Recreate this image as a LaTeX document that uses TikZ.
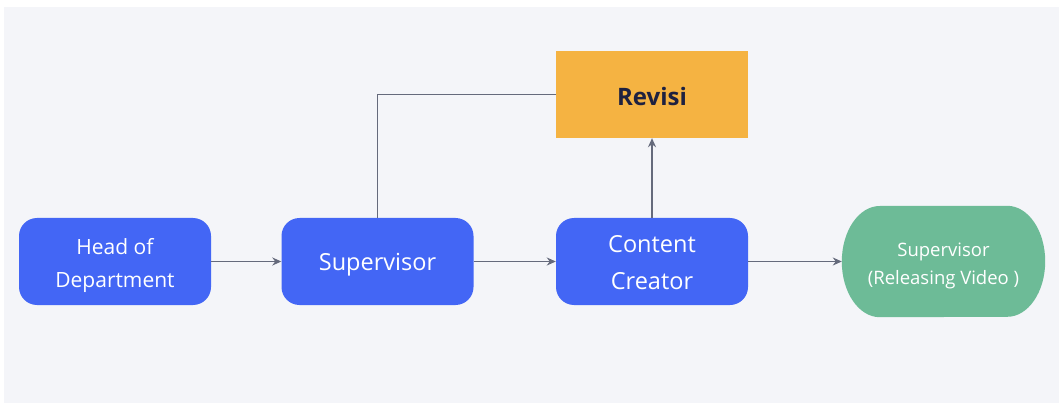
\documentclass[tikz,border=0pt]{standalone}
\usepackage{fontspec}
\setmainfont{Open Sans}
\usetikzlibrary{arrows.meta}
\definecolor{bg}{HTML}{F4F5F9}
\definecolor{bluebox}{HTML}{4366F5}
\definecolor{orangebox}{HTML}{F5B342}
\definecolor{greenbox}{HTML}{6DBB97}
\definecolor{linec}{HTML}{656A7C}
\definecolor{darktxt}{HTML}{1E2140}
\tikzset{
  bluestep/.style={fill=bluebox, rounded corners=18pt, minimum width=192pt, minimum height=87pt, inner sep=0pt},
  bluetext/.style={text=white, align=center, inner sep=0pt},
  revbox/.style={fill=orangebox, minimum width=192pt, minimum height=87pt, inner sep=0pt},
  revtext/.style={text=darktxt, align=center, inner sep=0pt, font=\fontsize{24}{28}\selectfont\bfseries, yshift=-2pt},
  endbox/.style={minimum width=203pt, minimum height=111pt, inner sep=0pt},
  endtext/.style={text=white, align=center, inner sep=0pt, font=\fontsize{18.5}{28}\selectfont, yshift=-4pt},
  conn/.style={draw=linec, line width=1.5pt, -{Stealth[length=9pt,width=8pt]}},
  plainconn/.style={draw=linec, line width=1.5pt}
}
\begin{document}
\begin{tikzpicture}[x=1pt,y=-1pt]
\useasboundingbox (0,0) rectangle (1059,403);
\fill[white] (0,0) rectangle (1059,403);
\fill[bg] (4,7) rectangle (1059,403);
\node[bluestep, label={[bluetext, font=\fontsize{21}{33}\selectfont, yshift=-3.5pt]center:{Head of\\Department}}] (hod) at (115,261.5) {};
\node[bluestep, label={[bluetext, font=\fontsize{23.5}{30}\selectfont, yshift=-3pt]center:{Supervisor}}] (sup) at (377.5,261.5) {};
\node[bluestep, label={[bluetext, font=\fontsize{23.5}{37}\selectfont, yshift=-1pt]center:{Content\\Creator}}] (cc) at (652,261.5) {};
\node[revbox, label={[revtext]center:{Revisi}}] (rev) at (652,94.5) {};
\node[endbox] (rel) at (943.5,261.5) {};
\fill[greenbox] (rel.west) arc[start angle=180, end angle=90, x radius=38pt, y radius=55.5pt]
  -- ([xshift=-38pt]rel.north east) arc[start angle=90, end angle=0, x radius=38pt, y radius=55.5pt]
  arc[start angle=0, end angle=-90, x radius=38pt, y radius=55.5pt]
  -- ([xshift=38pt]rel.south west) arc[start angle=270, end angle=180, x radius=38pt, y radius=55.5pt] -- cycle;
\node[endtext] (reltext) at (rel.center) {Supervisor\\(Releasing Video )};
\coordinate (corner) at (sup.north |- rev.west);
\draw[conn] (hod.east) -- (sup.west);
\draw[conn] (sup.east) -- (cc.west);
\draw[conn] (cc.east) -- (rel.west);
\draw[conn] (cc.north) -- (rev.south);
\draw[plainconn] (rev.west) -- (corner) -- (sup.north);
\end{tikzpicture}
\end{document}
